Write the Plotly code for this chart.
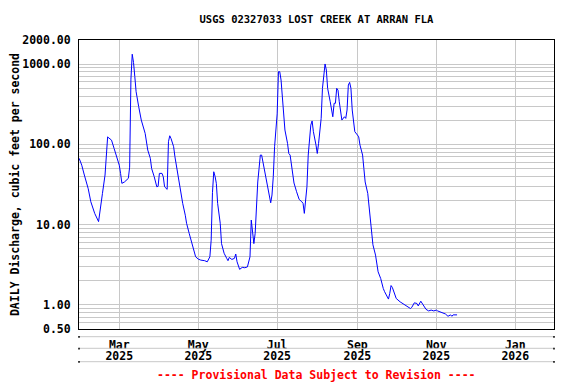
import plotly.graph_objects as go

dates = [
    "2025-01-29", "2025-01-31", "2025-02-02", "2025-02-05", "2025-02-07", "2025-02-10",
    "2025-02-13", "2025-02-14", "2025-02-16", "2025-02-18", "2025-02-19", "2025-02-20",
    "2025-02-21", "2025-02-23", "2025-02-25", "2025-02-27", "2025-03-01", "2025-03-02",
    "2025-03-03", "2025-03-05", "2025-03-08", "2025-03-09", "2025-03-10", "2025-03-11",
    "2025-03-12", "2025-03-13", "2025-03-14", "2025-03-16", "2025-03-18", "2025-03-21",
    "2025-03-23", "2025-03-25", "2025-03-26", "2025-03-28", "2025-03-30", "2025-03-31",
    "2025-04-01", "2025-04-03", "2025-04-04", "2025-04-05", "2025-04-07", "2025-04-08",
    "2025-04-09", "2025-04-10", "2025-04-12", "2025-04-13", "2025-04-14", "2025-04-15",
    "2025-04-17", "2025-04-19", "2025-04-21", "2025-04-22", "2025-04-24", "2025-04-26",
    "2025-04-28", "2025-04-29", "2025-05-01", "2025-05-03", "2025-05-06", "2025-05-08",
    "2025-05-10", "2025-05-11", "2025-05-12", "2025-05-13", "2025-05-14", "2025-05-15",
    "2025-05-16", "2025-05-18", "2025-05-19", "2025-05-21", "2025-05-23", "2025-05-24",
    "2025-05-25", "2025-05-27", "2025-05-29", "2025-05-30", "2025-05-31", "2025-06-01",
    "2025-06-02", "2025-06-04", "2025-06-06", "2025-06-08", "2025-06-09", "2025-06-10",
    "2025-06-11", "2025-06-12", "2025-06-13", "2025-06-14", "2025-06-15", "2025-06-16",
    "2025-06-17", "2025-06-18", "2025-06-19", "2025-06-20", "2025-06-21", "2025-06-23",
    "2025-06-24", "2025-06-25", "2025-06-26", "2025-06-27", "2025-06-28", "2025-06-29",
    "2025-06-30", "2025-07-01", "2025-07-02", "2025-07-03", "2025-07-04", "2025-07-05",
    "2025-07-06", "2025-07-07", "2025-07-09", "2025-07-10", "2025-07-11", "2025-07-12",
    "2025-07-13", "2025-07-14", "2025-07-16", "2025-07-18", "2025-07-20", "2025-07-21",
    "2025-07-22", "2025-07-23", "2025-07-24", "2025-07-25", "2025-07-26", "2025-07-27",
    "2025-07-28", "2025-07-29", "2025-07-31", "2025-08-01", "2025-08-02", "2025-08-03",
    "2025-08-04", "2025-08-05", "2025-08-06", "2025-08-07", "2025-08-08", "2025-08-09",
    "2025-08-11", "2025-08-12", "2025-08-13", "2025-08-14", "2025-08-15", "2025-08-16",
    "2025-08-17", "2025-08-18", "2025-08-19", "2025-08-20", "2025-08-22", "2025-08-23",
    "2025-08-24", "2025-08-25", "2025-08-26", "2025-08-27", "2025-08-28", "2025-08-29",
    "2025-08-30", "2025-09-01", "2025-09-02", "2025-09-03", "2025-09-05", "2025-09-06",
    "2025-09-07", "2025-09-09", "2025-09-10", "2025-09-11", "2025-09-12", "2025-09-13",
    "2025-09-15", "2025-09-16", "2025-09-17", "2025-09-19", "2025-09-20", "2025-09-21",
    "2025-09-22", "2025-09-24", "2025-09-25", "2025-09-26", "2025-09-27", "2025-09-28",
    "2025-09-29", "2025-10-01", "2025-10-04", "2025-10-07", "2025-10-09", "2025-10-12",
    "2025-10-13", "2025-10-15", "2025-10-17", "2025-10-18", "2025-10-20", "2025-10-22",
    "2025-10-24", "2025-10-26", "2025-10-28", "2025-10-30", "2025-11-01", "2025-11-02",
    "2025-11-05", "2025-11-08", "2025-11-10", "2025-11-12", "2025-11-13", "2025-11-14",
    "2025-11-17",
]

discharge = [
    67, 55, 41.5, 28, 19.3, 13.8,
    10.9, 15.2, 24.5, 41.5, 70, 124,
    120, 113, 89, 70, 55, 43.5,
    32.7, 34, 37.7, 52, 650, 1330,
    1050, 700, 454, 295, 201, 137,
    85, 67, 50, 39.5, 29.6, 30,
    43.5, 43.5, 39.5, 29.6, 27.5, 108,
    128, 118, 93.5, 70, 55, 45.6,
    29.6, 18.4, 13.1, 10.4, 7.8, 5.8,
    4.6, 3.97, 3.72, 3.61, 3.55, 3.44,
    3.97, 6.4, 25, 45.6, 40, 32.7,
    18.4, 10.4, 5.8, 4.4, 3.8, 3.55,
    3.9, 3.68, 3.8, 4.3, 3.44, 3.13,
    2.77, 2.93, 2.9, 2.97, 3.44, 3.97,
    11.4, 7.4, 5.8, 7.8, 17.5, 34,
    50, 73.6, 73.6, 60.8, 45.6, 34,
    27, 22.3, 18.7, 23.4, 39.5, 93.5,
    140, 240, 805, 805, 634, 375,
    221, 151, 103, 77, 73.6, 55,
    39.5, 33, 25.7, 20.6, 19.3, 18.4,
    13.8, 22.3, 29.6, 73.6, 131, 174,
    196, 144, 98, 77, 103, 158,
    211, 500, 805, 1005, 845, 500,
    340, 255, 221, 325, 325, 500,
    475, 340, 255, 201, 221, 211,
    268, 549, 593, 500, 268, 192,
    144, 131, 124, 98, 73.6, 50,
    34, 24.5, 17.5, 10.9, 7.8, 5.6,
    4.17, 3.28, 2.58, 2.13, 1.76, 1.6,
    1.46, 1.3, 1.18, 1.39, 1.74, 1.65,
    1.5, 1.2, 1.09, 1.02, 0.97, 0.90,
    0.93, 1.06, 1.04, 0.97, 1.11, 0.97,
    0.88, 0.84, 0.86, 0.84, 0.86, 0.84,
    0.81, 0.77, 0.72, 0.75, 0.72, 0.75,
    0.75,
]

y_tick_vals = [0.5, 1, 10, 100, 1000, 2000]
y_tick_text = ["0.50", "1.00", "10.00", "100.00", "1000.00", "2000.00"]
y_minor_vals = [0.6, 0.7, 0.8, 0.9, 2, 3, 4, 5, 6, 7, 8, 9,
                20, 30, 40, 50, 60, 70, 80, 90,
                200, 300, 400, 500, 600, 700, 800, 900]

x_tick_vals = ["2025-03-01", "2025-05-01", "2025-07-01", "2025-09-01", "2025-11-01", "2026-01-01"]
x_month_text = ["Mar", "May", "Jul", "Sep", "Nov", "Jan"]
x_year_text = ["2025", "2025", "2025", "2025", "2025", "2026"]

x_range = ["2025-01-28 21:00", "2026-01-30 22:00"]

FONT = "DejaVu Sans Mono"
GRID = "#c8c8c8"

# page body adds an 8px offset; figure is sized to compensate
W, H = 568, 376
ML, MT, PW, PH = 71, 32, 475, 289
MR, MB = W - ML - PW, H - MT - PH

fig = go.Figure()
fig.add_trace(go.Scatter(
    x=dates, y=discharge, mode="lines",
    line=dict(color="#0000ff", width=1),
    hoverinfo="skip", showlegend=False,
))

fig.update_layout(
    width=W, height=H,
    margin=dict(l=ML, r=MR, t=MT, b=MB, pad=0),
    paper_bgcolor="white", plot_bgcolor="white",
    font=dict(family=FONT, size=11.5, color="black"),
    title=dict(
        text="USGS 02327033 LOST CREEK AT ARRAN FLA",
        font=dict(family=FONT, size=10.5, color="black", weight="bold"),
        x=0.5, xref="paper", xanchor="center",
        y=1 - 11 / H, yref="container", yanchor="middle",
    ),
    xaxis=dict(
        type="date", range=x_range, automargin=False,
        tickmode="array", tickvals=x_tick_vals, ticktext=x_month_text,
        ticks="", showgrid=True, gridcolor=GRID, gridwidth=1,
        showline=True, mirror=True, linecolor="black", linewidth=1,
        tickfont=dict(family=FONT, size=11.5, weight="bold"),
        ticklabelstandoff=5,
        zeroline=False,
    ),
    xaxis2=dict(
        type="date", range=x_range, overlaying="x", side="bottom", anchor="y",
        automargin=False,
        tickmode="array", tickvals=x_tick_vals, ticktext=x_year_text,
        ticks="", showgrid=False, showline=False, zeroline=False,
        tickfont=dict(family=FONT, size=11.5, weight="bold"),
        ticklabelstandoff=18,
    ),
    yaxis=dict(
        type="log", range=[0.69897 - 1, 3.30103], automargin=False,
        tickmode="array", tickvals=y_tick_vals, ticktext=y_tick_text,
        ticks="", showgrid=True, gridcolor=GRID, gridwidth=1,
        minor=dict(tickmode="array", tickvals=y_minor_vals, showgrid=True,
                   gridcolor=GRID, gridwidth=1, ticks=""),
        showline=True, mirror=True, linecolor="black", linewidth=1,
        tickfont=dict(family=FONT, size=11.5, weight="bold"),
        ticklabelstandoff=5,
        title=dict(text="DAILY Discharge, cubic feet per second",
                   font=dict(family=FONT, size=11.5, weight="bold"),
                   standoff=8),
        zeroline=False,
    ),
)

# invisible trace to activate xaxis2
fig.add_trace(go.Scatter(x=[dates[0]], y=[discharge[0]], xaxis="x2", mode="markers",
                         marker=dict(opacity=0), hoverinfo="skip", showlegend=False))

# label band lines under the plot (offsets below plot bottom, in px)
for off in [7.7, 19.3, 32.7]:
    yp = -off / PH
    fig.add_shape(type="line", xref="paper", yref="paper", x0=0, x1=1, y0=yp, y1=yp,
                  line=dict(color=GRID, width=1))
    for xe in (0, 1):
        fig.add_shape(type="line", xref="paper", yref="paper", x0=xe, x1=xe,
                      y0=yp + 0.002, y1=yp - 0.004, line=dict(color="black", width=1.5))

fig.add_annotation(
    text="---- Provisional Data Subject to Revision ----",
    xref="paper", yref="paper", x=0.5, y=-46 / PH,
    xanchor="center", yanchor="middle", showarrow=False,
    font=dict(family=FONT, size=11.5, color="red", weight="bold"),
)

fig.write_html("out.html")
